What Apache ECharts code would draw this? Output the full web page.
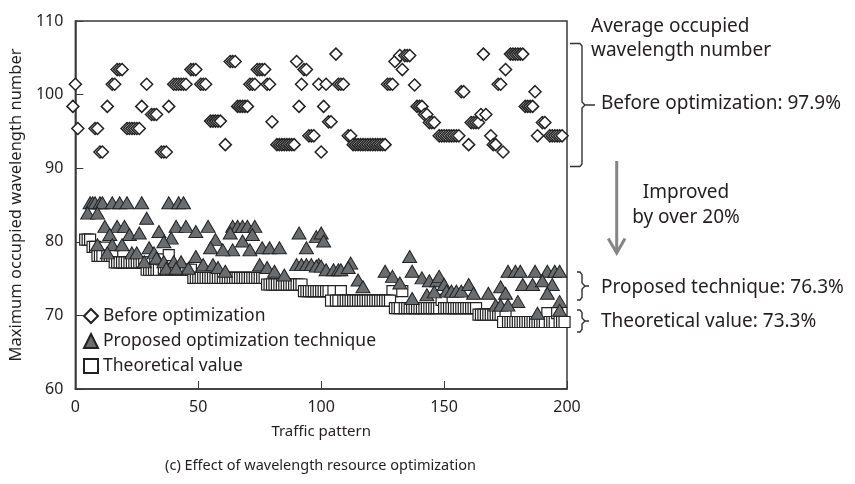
<!DOCTYPE html>
<html>
<head>
<meta charset="utf-8">
<script src="https://cdn.jsdelivr.net/npm/echarts@6/dist/echarts.min.js"></script>
<style>
  html, body { margin: 0; padding: 0; background: #fff; }
  #chart { width: 855px; height: 484px; }
</style>
</head>
<body>
<div id="chart"></div>
<script>
// 优化前（菱形）
var beforeOpt = [
  [-1,98.4],[0,101.4],[1,95.4],[8,95.4],[9,95.4],[10,92.2],[11,92.2],[13,98.4],[15,101.4],[16,101.4],
  [17,103.4],[18,103.4],[19,103.4],[21,95.4],[22,95.4],[23,95.4],[24,95.4],[25,95.4],[26,95.4],[27,98.4],
  [29,101.4],[31,97.3],[32,97.3],[33,97.3],[35,92.2],[36,92.2],[37,92.2],[38,98.4],[40,101.4],[41,101.4],
  [42,101.4],[43,101.4],[44,101.4],[45,101.4],[47,103.4],[48,103.4],[49,103.4],[51,101.4],[52,101.4],[53,101.4],
  [55,96.4],[56,96.4],[57,96.4],[58,96.4],[59,96.4],[61,93.2],[63,104.5],[64,104.5],[65,104.5],[66,98.4],
  [67,98.4],[68,98.4],[69,98.4],[70,98.4],[71,101.4],[72,101.4],[73,101.4],[74,103.4],[75,103.4],[76,103.4],
  [77,103.4],[78,101.4],[79,101.4],[80,96.3],[82,93.2],[83,93.2],[84,93.2],[85,93.2],[86,93.2],[87,93.2],
  [88,93.2],[89,93.2],[90,104.5],[91,98.4],[92,101.4],[93,103.4],[94,103.4],[95,94.4],[96,94.4],[97,94.4],
  [99,101.4],[100,92.2],[101,98.4],[102,101.4],[103,96.3],[104,96.3],[106,105.5],[107,101.4],[108,101.4],[109,101.4],
  [111,94.4],[112,94.4],[113,93.2],[114,93.2],[115,93.2],[116,93.2],[117,93.2],[118,93.2],[119,93.2],[120,93.2],
  [121,93.2],[122,93.2],[123,93.2],[124,93.2],[125,93.2],[126,93.2],[127,101.4],[128,101.4],[129,101.4],[130,104.5],
  [132,105.3],[133,103.4],[134,105.3],[135,105.3],[136,105.3],[138,101.3],[139,98.4],[140,98.4],[141,98.4],[142,97.3],
  [143,97.3],[144,96.2],[145,96.2],[146,96.2],[148,94.4],[149,94.4],[150,94.4],[151,94.4],[152,94.4],[153,94.4],
  [154,94.4],[155,94.4],[156,94.4],[157,100.4],[158,100.4],[160,93.2],[161,96.2],[162,96.2],[163,96.2],[164,96.2],
  [165,97.3],[166,105.5],[167,97.3],[169,94.4],[170,93.2],[171,93.2],[172,101.4],[173,101.4],[174,92.2],[175,103.4],
  [177,105.5],[178,105.5],[179,105.5],[180,105.5],[181,105.5],[182,105.5],[183,98.4],[184,98.4],[185,98.4],[186,98.4],
  [187,100.4],[188,94.4],[190,96.2],[191,96.2],[193,94.4],[194,94.4],[195,94.4],[196,94.4],[197,94.4],[198,94.4]
];

// 提出的优化方法（三角形）
var proposed = [
  [6,85.3],[7,85.3],[8,85.3],[10,85.3],[11,85.3],[15,85.3],[18,85.3],[21,85.3],[27,85.3],[38,85.3],[42,85.3],[44,85.3],
  [5,83.9],[9,83.9],[29,83.2],[12,82.1],[17,82.1],[20,82.1],[41,82.1],[45,82.1],[34,81.4],[14,81],[22,81],[26,81.2],
  [39,80.5],[36,80],[9,79.6],[15,79.6],[19,79.6],[30,79.2],[13,78.5],[23,78.5],[25,78.5],[32,78.5],[33,77.8],
  [28,77.3],[36,77.3],[40,77.3],[43,77.3],[37,76.4],[41,76.4],[46,76.4],
  [49,81.4],[54,82.1],[64,82.1],[66,82.1],[68,82.1],[70,82.1],[73,82.1],[57,80.3],[55,79.2],[63,81.2],[68,80.1],
  [72,81],[64,78.9],[60,78.9],[71,78.9],[76,79.2],[79,79.2],[83,79.2],[49,78],[52,76.9],[56,76.9],[58,76.5],[61,76],
  [75,76.9],[78,76.5],[81,76],[85,75.5],[91,81.2],[94,79.2],[98,80.7],[90,76.9],[92,76.9],[94,76.9],[96,76.9],[99,76.9],
  [100,81.2],[101,80.1],[98,76.7],[100,76.7],[102,76.2],[105,76.2],[107,76.2],[108,76.2],[112,77.1],[111,76.5],
  [115,74.8],[117,73.9],[126,76],[129,75.3],[132,74.4],[136,78],[137,76],[141,75.1],[144,74.7],[147,74.7],
  [137,72.3],[143,72.8],[146,73.2],
  [148,75.3],[150,74.2],[151,73.3],[153,73.3],[155,73.3],[157,73.3],[160,74.2],[162,73],[168,73],[173,73.9],[175,73],
  [176,76],[179,76],[181,76],[187,76],[192,76],[195,76],[197,76],[182,74.2],[186,74.2],[190,74.7],[194,74.2],
  [180,71.9],[192,73],[197,71.9],[197,70.7],[171,71.4],[173,71.4],[176,71.4],[188,70.3]
];

// 理论值（方形）
var theoretical = [
  [4,80.3],[5,80.3],[6,80.3],[7,79.3],[8,79.3],[12,79.2],[9,78.1],[10,78.1],[11,78.1],[13,78.1],[14,78.1],[15,78.1],
  [16,77.2],[17,77.2],[18,77.2],[19,77.2],[20,77.2],[21,77.2],[22,77.2],[23,77.2],[24,77.2],[25,77.2],[26,77.2],[27,77.2],[28,77.2],
  [29,76.2],[30,76.2],[31,76.2],[32,76.2],[33,76.2],[34,76.2],[35,77.6],[36,76.2],[37,76.2],[38,78.2],[39,76.2],[40,76.2],
  [41,76.2],[42,76.2],[43,76.2],[44,76.2],[45,76.2],[46,76.2],[47,76.2],
  [48,75.1],[49,75.1],[50,75.1],[51,75.1],[52,75.1],[53,75.1],[54,75.1],[55,75.1],[56,75.1],[57,75.1],[58,75.1],[59,75.1],
  [60,75.1],[61,75.1],[62,75.1],[63,75.1],[64,75.1],[65,75.1],[66,75.1],[67,75.1],[68,75.1],[69,75.1],[70,75.1],[71,75.1],
  [72,75.1],[73,75.1],[74,75.1],[75,75.1],[76,75.1],[77,75.1],
  [78,74.2],[79,74.2],[80,74.2],[81,74.2],[82,74.2],[83,74.2],[84,74.2],[85,74.2],[86,74.2],[87,74.2],[88,74.2],[89,74.2],
  [90,74.2],[91,74.2],[92,74.2],
  [93,73.3],[94,73.3],[95,73.3],[96,73.3],[97,73.3],[98,73.3],[99,73.3],[100,73.3],[101,73.3],[102,73.3],[103,73.3],
  [105,73.3],[108,73.3],[129,73.3],[133,73.3],
  [104,72],[106,72],[107,72],[109,72],[110,72],[111,72],[112,72],[113,72],[114,72],[115,72],[116,72],[117,72],[118,72],
  [119,72],[120,72],[121,72],[122,72],[123,72],[124,72],[125,72],[126,72],[127,72],[128,72],
  [130,71],[131,71],[132,71],[134,71],[135,71],[136,71],[137,71],[138,71],[139,71],[140,71],[141,71],[142,71],[143,71],
  [144,71],[145,71],[146,71],[147,71],[148,71],[149,72.1],[150,71],[151,71],[152,71],[153,71],[154,71],[155,71],[156,71],
  [157,71],[158,71],[159,71],[160,71],[161,71],[162,71],[163,71],
  [164,70.1],[165,70.1],[166,70.1],[167,70.1],[168,70.1],[169,70.1],[170,70.1],[171,70.1],[172,70.1],[173,70.1],[175,70.3],
  [174,69.1],[176,69.1],[177,69.1],[178,69.1],[179,69.1],[180,69.1],[181,69.1],[182,69.1],[183,69.1],[184,69.1],[185,69.1],
  [186,69.1],[187,69.1],[188,69.1],[189,69.1],[190,69.1],[191,69.1],[192,70.3],[193,69.1],[194,69.1],[195,69.1],[196,70.3],
  [197,69.1],[198,69.1],[199,69.1]
];

var seriesNames = ['Before optimization', 'Proposed optimization technique', 'Theoretical value'];
var annoHead = ['Average occupied', 'wavelength number'];
var annoBefore = 'Before optimization: 97.9%';
var annoImproved = ['Improved', 'by over 20%'];
var annoProposed = 'Proposed technique: 76.3%';
var annoTheory = 'Theoretical value: 73.3%';
var caption = '(c) Effect of wavelength resource optimization';

var FONT = '"Noto Sans", "Open Sans", sans-serif';
var INK = '#231f20';

function txt(x, y, s, size, align) {
  return {
    type: 'text', x: x, y: y, silent: true,
    style: { text: s, fill: INK, font: size + 'px ' + FONT, align: align || 'left', verticalAlign: 'middle' }
  };
}
function pline(pts, color, w) {
  return { type: 'polyline', silent: true, shape: { points: pts }, style: { stroke: color || '#333', fill: null, lineWidth: w || 1.4 } };
}
// 花括号：上端、中点、下端
function brace(x0, x1, top, mid, bot, nub) {
  return [
    pline([[x0, top], [x1 - 2, top], [x1, top + 2.5], [x1, mid - 3], [x1 + 3, mid], [nub, mid]]),
    pline([[x1 + 3, mid], [x1, mid + 3], [x1, bot - 2.5], [x1 - 2, bot], [x0, bot]])
  ];
}

var graphics = [
  txt(591, 27, annoHead[0], 19),
  txt(591, 51, annoHead[1], 19),
  txt(601, 104, annoBefore, 19),
  pline([[616.7, 161], [616.7, 252]], '#858585', 3),
  pline([[608.3, 238.5], [616.7, 253], [625, 238.5]], '#858585', 3),
  txt(686, 193, annoImproved[0], 19, 'center'),
  txt(686, 218, annoImproved[1], 19, 'center'),
  txt(601, 288, annoProposed, 19),
  txt(601, 322, annoTheory, 19),
  txt(320.5, 466, caption, 14.5, 'center')
].concat(
  brace(570, 582, 43.5, 105, 166.5, 595),
  brace(577, 582, 272, 286, 300, 589),
  brace(577, 582, 310, 321, 332, 589)
);

var chart = echarts.init(document.getElementById('chart'));
chart.setOption({
  animation: false,
  textStyle: { fontFamily: FONT },
  grid: { left: 74, right: 288, top: 21, bottom: 95, show: true, borderColor: '#3a3a3a', borderWidth: 1.5 },
  xAxis: {
    type: 'value', min: 0, max: 200, interval: 50,
    name: 'Traffic pattern', nameLocation: 'middle', nameGap: 35,
    nameTextStyle: { fontSize: 15, color: INK },
    axisLine: { show: true, lineStyle: { color: '#3a3a3a', width: 1.5 } },
    axisTick: { show: true, inside: true, length: 8, lineStyle: { color: '#3a3a3a' } },
    axisLabel: { fontSize: 16, color: INK, margin: 10 },
    splitLine: { show: false }
  },
  yAxis: {
    type: 'value', min: 60, max: 110, interval: 10,
    name: 'Maximum occupied wavelength number', nameLocation: 'middle', nameGap: 48,
    nameTextStyle: { fontSize: 16.5, color: INK },
    axisLine: { show: true, lineStyle: { color: '#3a3a3a', width: 1.5 } },
    axisTick: { show: true, inside: true, length: 8, lineStyle: { color: '#3a3a3a' } },
    axisLabel: { fontSize: 16, color: INK, margin: 12 },
    splitLine: { show: false }
  },
  legend: {
    orient: 'vertical', left: 78, top: 302, itemWidth: 14, itemHeight: 14, itemGap: 7,
    textStyle: { fontSize: 17.5, color: INK, lineHeight: 17 },
    data: seriesNames
  },
  series: [
    {
      name: seriesNames[0], type: 'scatter', clip: false, z: 2,
      symbol: 'diamond', symbolSize: 12,
      itemStyle: { color: '#fff', borderColor: '#222', borderWidth: 1.5, opacity: 1 },
      data: beforeOpt
    },
    {
      name: seriesNames[2], type: 'scatter', z: 3,
      symbol: 'rect', symbolSize: 11,
      itemStyle: { color: '#fff', borderColor: '#222', borderWidth: 1.2, opacity: 1 },
      data: theoretical
    },
    {
      name: seriesNames[1], type: 'scatter', z: 4,
      symbol: 'triangle', symbolSize: [14, 12],
      itemStyle: { color: '#6b6c6e', borderColor: '#222', borderWidth: 1, opacity: 1 },
      data: proposed
    }
  ],
  graphic: graphics
});
</script>
</body>
</html>
